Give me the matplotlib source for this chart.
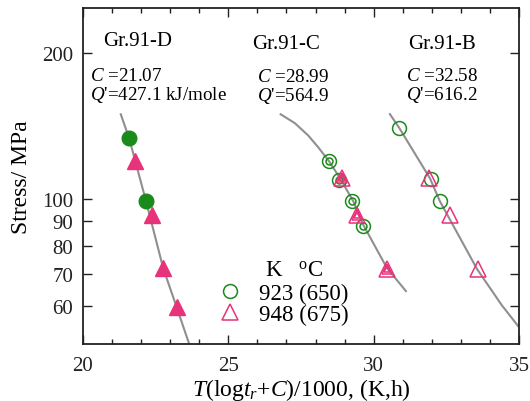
import matplotlib
matplotlib.use("Agg")
import matplotlib.pyplot as plt
from matplotlib.lines import Line2D
from matplotlib.ticker import FixedLocator, NullLocator, NullFormatter, MultipleLocator

plt.rcParams["font.family"] = ["Liberation Serif", "DejaVu Serif"]
plt.rcParams["mathtext.fontset"] = "custom"
plt.rcParams["mathtext.rm"] = "Liberation Serif"
plt.rcParams["mathtext.it"] = "Liberation Serif:italic"

# ---- Larson-Miller master curves (LMP/1000, stress MPa) ----
curve_d_lmp = [21.30, 21.59, 22.17, 22.76, 23.22, 23.65]
curve_d_stress = [149.7, 133.4, 98.9, 71.9, 59.8, 50.2]
curve_c_lmp = [26.80, 27.29, 27.75, 28.09, 28.47, 28.86, 29.30, 29.64, 30.45, 31.11]
curve_c_stress = [149.7, 143.5, 135.3, 128.0, 119.6, 110.0, 98.9, 88.5, 72.1, 64.5]
curve_b_lmp = [30.56, 30.88, 31.94, 32.28, 33.56, 34.40, 34.97]
curve_b_stress = [149.8, 140.3, 110.3, 98.9, 71.6, 60.4, 54.6]

# ---- Creep rupture data ----
# Gr.91-D
d923_lmp = [21.59, 22.17]
d923_stress = [133.4, 98.9]
d948_lmp = [21.79, 22.36, 22.76, 23.22]
d948_stress = [119.9, 92.7, 71.9, 59.8]
# Gr.91-C
c923_lmp = [28.47, 28.82, 29.27, 29.62]
c923_stress = [119.6, 109.6, 99.1, 88.1]
c948_lmp = [28.90, 29.41, 30.45]
c948_stress = [110.5, 92.7, 71.7]
# Gr.91-B
b923_lmp = [30.88, 31.96, 32.28]
b923_stress = [140.3, 110.0, 98.9]
b948_lmp = [31.91, 32.62, 33.60]
b948_stress = [110.6, 92.7, 71.7]

heat_labels = ["Gr.91-D", "Gr.91-C", "Gr.91-B"]
c_values = ["21.07", "28.99", "32.58"]
q_values = ["427.1 kJ/mole", "564.9", "616.2"]
legend_labels = ["923 (650)", "948 (675)"]
y_ticks = [60, 70, 80, 90, 100, 200]

GREEN = "#1a8a1a"
PINK = "#e8327a"
GREY = "#8f8f8f"

fig = plt.figure(figsize=(5.30, 4.02), dpi=100)
ax = fig.add_axes([0.1566, 0.1425, 0.8226, 0.8344])
ax.set_yscale("log")
ax.set_xlim(20, 35)
ax.set_ylim(50.2, 248)

# master curves
for xs, ys in [(curve_d_lmp, curve_d_stress), (curve_c_lmp, curve_c_stress),
               (curve_b_lmp, curve_b_stress)]:
    ax.plot(xs, ys, color=GREY, lw=1.5, zorder=2)

# Gr.91-D: filled symbols
ax.plot(d923_lmp, d923_stress, "o", ms=10.5, color=GREEN, mec=GREEN, zorder=3)
ax.plot(d948_lmp, d948_stress, "^", ms=11, color=PINK, mec=PINK, zorder=3)

# Gr.91-C: nested open symbols
for ms in (10, 5):
    ax.plot(c923_lmp, c923_stress, "o", ms=ms, mfc="none", mec=GREEN, mew=1.1, zorder=3)
for ms in (11, 7.5, 4.5):
    ax.plot(c948_lmp, c948_stress, "^", ms=ms, mfc="none", mec=PINK, mew=1.1, zorder=4)

# Gr.91-B: open symbols
ax.plot(b923_lmp, b923_stress, "o", ms=10, mfc="none", mec=GREEN, mew=1.1, zorder=3)
ax.plot(b948_lmp, b948_stress, "^", ms=11, mfc="none", mec=PINK, mew=1.1, zorder=4)

# heat annotations
title_pos = [(20.69, 207.9), (25.81, 205.4), (31.19, 205.4)]
param_x = [20.24, 25.99, 31.10]
c_y = [176.5, 175.0, 176.5]
q_y = [161.0, 160.0, 161.0]
for lab, (tx, ty), px, cy, qy, cv, qv in zip(heat_labels, title_pos, param_x, c_y, q_y,
                                           c_values, q_values):
    ax.text(tx, ty, lab, fontsize=15, va="baseline", ha="left")
    ax.text(px, cy, r"$C$ =" + cv, fontsize=13.7, va="baseline", ha="left")
    ax.text(px, qy, r"$Q$'=" + qv, fontsize=13.7, va="baseline", ha="left")

# legend
ax.text(0.4174, 0.2027, r"K   $^{\mathrm{o}}$C", transform=ax.transAxes,
        fontsize=16.5, va="baseline", ha="left")
handles = [
    Line2D([], [], ls="none", marker="o", ms=10, mfc="none", mec=GREEN, mew=1.1),
    Line2D([], [], ls="none", marker="^", ms=11, mfc="none", mec=PINK, mew=1.1),
]
ax.legend(handles, legend_labels, loc="center left", bbox_to_anchor=(0.302, 0.118),
          frameon=False, fontsize=16.5, handlelength=1.3, handletextpad=0.65,
          labelspacing=0.0, borderpad=0, borderaxespad=0)

# axes and ticks
ax.xaxis.set_major_locator(MultipleLocator(5))
ax.xaxis.set_minor_locator(MultipleLocator(1))
ax.yaxis.set_major_locator(FixedLocator(y_ticks))
ax.yaxis.set_minor_locator(NullLocator())
ax.yaxis.set_minor_formatter(NullFormatter())
ax.set_yticklabels([str(v) for v in y_ticks])
ax.tick_params(which="both", direction="in", top=True, right=True, width=1.0,
               labelsize=15, pad=7, colors="#222222")
ax.tick_params(axis="x", which="both", pad=9)
ax.tick_params(which="major", length=6.8)
ax.tick_params(which="minor", length=3.4)
for sp in ax.spines.values():
    sp.set_linewidth(1.3)
    sp.set_color("#222222")

ax.set_xlabel(r"$T$(log$t_r$+$C$)/1000, (K,h)", fontsize=17, labelpad=0.5)
ax.set_ylabel("Stress/ MPa", fontsize=17, labelpad=7)

fig.savefig("out.png", dpi=100)
